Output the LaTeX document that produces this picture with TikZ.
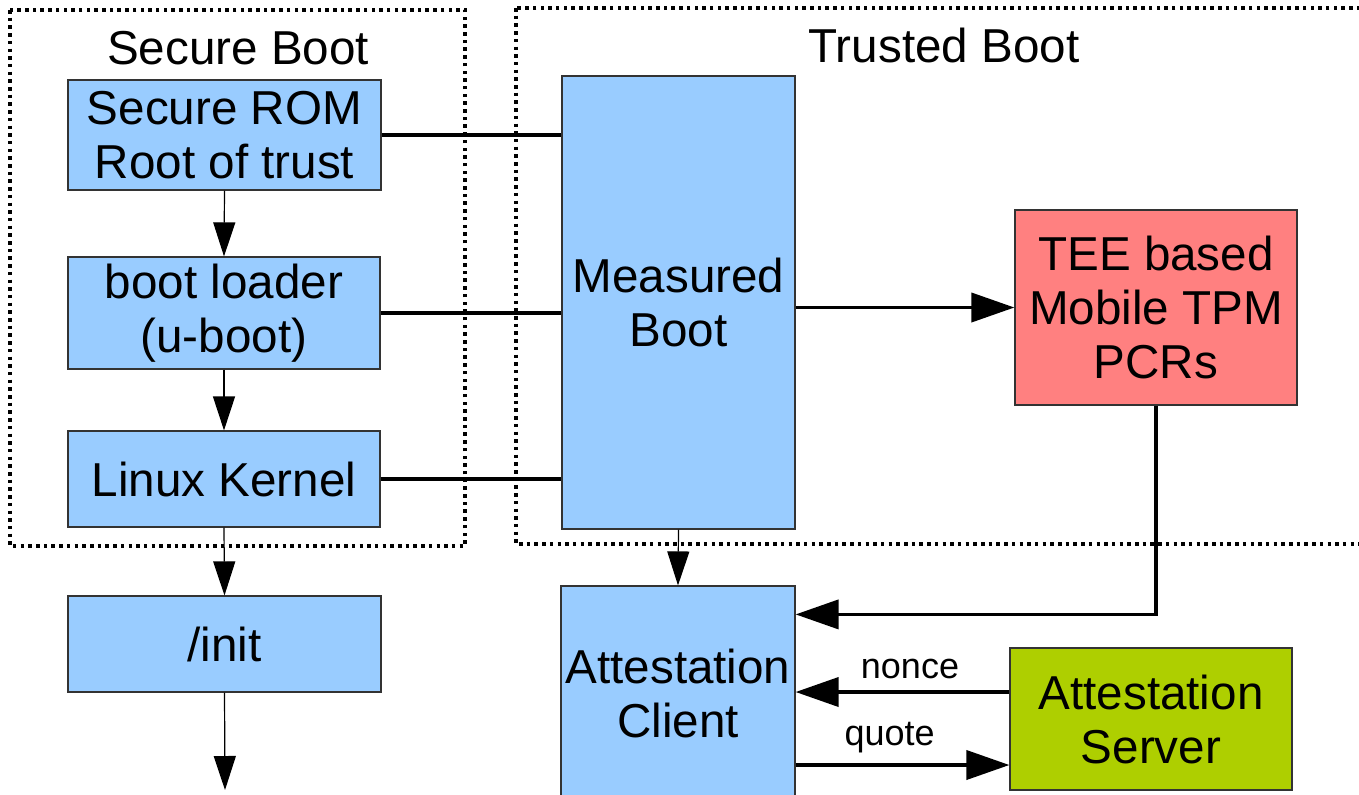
\documentclass[tikz,border=0pt]{standalone}
\usepackage{fontspec}
\setmainfont{Liberation Sans}
\usetikzlibrary{arrows.meta,calc}
\definecolor{boxblue}{HTML}{99CCFF}
\definecolor{teered}{HTML}{FF8080}
\definecolor{srvgreen}{HTML}{AECF00}
\tikzset{
  blk/.style={draw=black!80, line width=0.6pt, fill=boxblue, align=center, inner sep=0pt,
              font=\fontsize{23.8pt}{27pt}\selectfont},
  thinarrow/.style={line width=0.6pt, -{Triangle[length=17pt,width=11pt]}},
  thickline/.style={line width=1.9pt},
  thickarrow/.style={line width=1.9pt, -{Triangle[length=21.5pt,width=14.5pt]}},
  region/.style={line width=1.75pt, dash pattern=on 1.75pt off 2.1pt},
  title/.style={font=\fontsize{23.8pt}{27pt}\selectfont},
  lbl/.style={font=\fontsize{18pt}{21pt}\selectfont}
}
\begin{document}
\begin{tikzpicture}[x=0.5pt,y=-0.5pt]
\useasboundingbox (0,0) rectangle (1359,794);
\clip (0,0) rectangle (1359,794);
\fill[white] (0,0) rectangle (1359,794);
% regions
\draw[region] (10,10) rectangle (465,546);
\draw[region] (516,8) rectangle (1380,544);
\node[title] (tsb) at (238,48) {Secure Boot};
\node[title] (ttb) at (944,45) {Trusted Boot};
% boxes
\node[blk, minimum width=156.5pt, minimum height=55pt] (rom) at (224.5,135) {Secure ROM\\Root of trust};
\node[blk, minimum width=156pt, minimum height=56pt] (bl) at (224,313) {boot loader\\(u-boot)};
\node[blk, minimum width=156pt, minimum height=48pt] (lk) at (224,479) {Linux Kernel};
\node[blk, minimum width=156.5pt, minimum height=48pt] (init) at (224.5,644) {/init};
\node[blk, minimum width=116.5pt, minimum height=226.5pt] (mb) at (678.5,302.5) {Measured\\Boot};
\node[blk, fill=teered, minimum width=141pt, minimum height=97.5pt] (tee) at (1156,307.5) {TEE based\\Mobile TPM\\PCRs};
\node[blk, minimum width=117pt, minimum height=107pt] (ac) at (678,693) {Attestation\\Client};
\node[blk, fill=srvgreen, minimum width=141pt, minimum height=71pt] (as) at (1151,719) {Attestation\\Server};
\coordinate (out) at (225,790);
% thin arrows
\draw[thinarrow] (rom.south) -- (bl.north);
\draw[thinarrow] (bl.south) -- (lk.north);
\draw[thinarrow] (lk.south) -- (init.north);
\draw[thinarrow] (init.south) -- (out);
\draw[thinarrow] (mb.south) -- (ac.north);
% measurement lines
\draw[thickline] (rom.east) -- (rom.east -| mb.west);
\draw[thickline] (bl.east) -- (bl.east -| mb.west);
\draw[thickline] (lk.east) -- (lk.east -| mb.west);
\draw[thickarrow] (tee.west -| mb.east) -- (tee.west);
\draw[thickarrow] (tee.south) |- ([yshift=-14.5pt]ac.north east);
\draw[thickarrow] ([yshift=13.5pt]as.west) -- ([yshift=13.5pt]as.west -| ac.east)
  node[lbl, pos=0.465, above=2.5pt] (nonce) {nonce};
\draw[thickarrow] ([yshift=-36pt]ac.east) -- ([yshift=-36pt]ac.east -| as.west)
  node[lbl, pos=0.44, above=1.5pt] (quote) {quote};
\end{tikzpicture}
\end{document}
